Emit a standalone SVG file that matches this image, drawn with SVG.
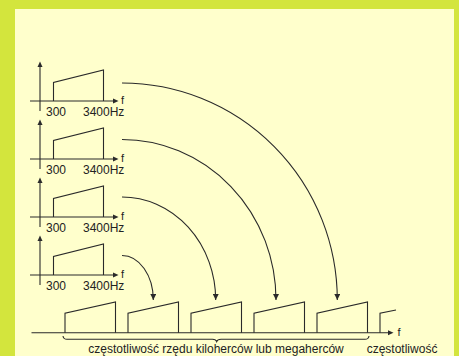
<svg xmlns="http://www.w3.org/2000/svg" xmlns:xlink="http://www.w3.org/1999/xlink" width="459" height="356" viewBox="0 0 459 356">
<style>
.ln{fill:none;stroke:#2a2a2a;stroke-width:1.1}
.ah{fill:#2a2a2a}
.t{font-family:"Liberation Sans",Arial,sans-serif;font-size:12px;fill:#222}
.tf{font-family:"Liberation Sans",Arial,sans-serif;font-size:11px;fill:#222}
</style>
<defs>
<marker id="arr" markerUnits="userSpaceOnUse" markerWidth="6" markerHeight="6" viewBox="0 0 10 10" refX="10" refY="5" orient="auto">
<path d="M0,0 L10,5 L0,10 z" fill="#2a2a2a"/>
</marker>
<g id="spec">
<path class="ln" d="M30,0 H114"/>
<polygon class="ah" points="113,-2.5 118.5,0 113,2.5"/>
<path class="ln" d="M40,10 V-35"/>
<polygon class="ah" points="37.5,-34 40,-39.5 42.5,-34"/>
<path class="ln" d="M53.5,0 V-18.5 L103.5,-31 V0"/>
<text class="t" x="46" y="14.5">300</text>
<text class="t" x="83" y="14.5">3400Hz</text>
<text class="tf" x="121" y="2.5">f</text>
</g>
<path id="bt" class="ln" d="M0,0 V-19.4 L50.5,-30.7 V0"/>
</defs>
<rect x="0" y="0" width="459" height="356" fill="#d3e53d"/>
<rect x="15" y="9" width="439" height="347" fill="#ffffcc"/>
<g id="spectrum1"><use xlink:href="#spec" transform="translate(0,101)"/></g>
<g id="spectrum2"><use xlink:href="#spec" transform="translate(0,159)"/></g>
<g id="spectrum3"><use xlink:href="#spec" transform="translate(0,217)"/></g>
<g id="spectrum4"><use xlink:href="#spec" transform="translate(0,275)"/></g>
<g id="multiplex">
<path class="ln" d="M31.5,332.7 H389"/>
<polygon class="ah" points="388,330.2 393.5,332.7 388,335.2"/>
<text class="tf" x="397.5" y="336">f</text>
<use xlink:href="#bt" transform="translate(65,332.7)"/>
<use xlink:href="#bt" transform="translate(128,332.7)"/>
<use xlink:href="#bt" transform="translate(191,332.7)"/>
<use xlink:href="#bt" transform="translate(254,332.7)"/>
<use xlink:href="#bt" transform="translate(317,332.7)"/>
<path class="ln" d="M380,332.7 V313.3 L396,310"/>
<path class="ln" d="M63,336 Q63.5,339.3 67,339.3 H212.5 Q216,339.3 216.7,341.5 Q217.4,339.3 221,339.3 H365 Q368.5,339.3 369,336"/>
<text class="t" x="88.3" y="353">częstotliwość rzędu kiloherców lub megaherców</text>
<text class="t" x="366.7" y="353">częstotliwość</text>
</g>
<g id="connectors">
<path class="ln" marker-end="url(#arr)" d="M122,83 A215.3,217 0 0 1 337.3,300"/>
<path class="ln" marker-end="url(#arr)" d="M122,139.5 A154,160.5 0 0 1 276,300"/>
<path class="ln" marker-end="url(#arr)" d="M122,197 A93.7,103 0 0 1 215.7,300"/>
<path class="ln" marker-end="url(#arr)" d="M122,255.5 A31.3,44.5 0 0 1 153.3,300"/>
</g>
</svg>
